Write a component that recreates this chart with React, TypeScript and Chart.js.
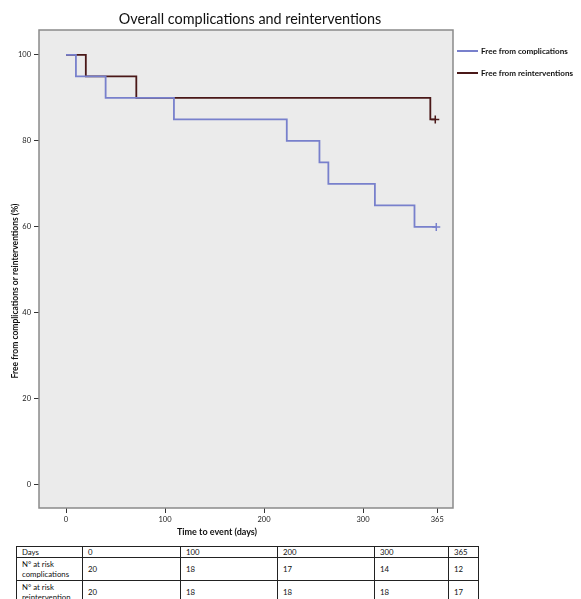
import React, { useEffect, useRef } from "react";
import { Chart, registerables } from "chart.js";

Chart.register(...registerables);

const chartTitle = "Overall complications and reinterventions";
const xAxisTitle = "Time to event (days)";
const yAxisTitle = "Free from complications or reinterventions (%)";

const complicationsLabel = "Free from complications";
const complicationsDays = [0, 10, 40, 109, 223, 256, 265, 312, 352, 374];
const complicationsFree = [100, 95, 90, 85, 80, 75, 70, 65, 60, 60];

const reinterventionsLabel = "Free from reinterventions";
const reinterventionsDays = [0, 20, 71, 368, 373];
const reinterventionsFree = [100, 95, 90, 85, 85];

const xTickValues = [0, 100, 200, 300, 375];
const xTickLabels = ["0", "100", "200", "300", "365"];
const yTickValues = [0, 20, 40, 60, 80, 100];

const tableHeader = "Days";
const tableDays = ["0", "100", "200", "300", "365"];
const atRiskComplicationsLabel = ["N° at risk", "complications"];
const atRiskComplications = [20, 18, 17, 14, 12];
const atRiskReinterventionsLabel = ["N° at risk", "reintervention"];
const atRiskReinterventions = [20, 18, 18, 18, 17];

const FONT = "Lato, 'Open Sans', 'DejaVu Sans', sans-serif";
const BLUE = "#7880cc";
const MAROON = "#4a1818";

const boxPlugin = {
  id: "boxAndText",
  beforeDraw(chart: any) {
    const { ctx, chartArea: a } = chart;
    ctx.save();
    ctx.fillStyle = "#ebebeb";
    ctx.fillRect(a.left, a.top, a.right - a.left, a.bottom - a.top);
    ctx.restore();
  },
  afterDraw(chart: any) {
    const { ctx, chartArea: a } = chart;
    ctx.save();
    ctx.strokeStyle = "#8a8a8a";
    ctx.lineWidth = 1.5;
    ctx.strokeRect(a.left, a.top, a.right - a.left, a.bottom - a.top);

    ctx.fillStyle = "#111";
    ctx.textAlign = "center";
    ctx.textBaseline = "middle";
    ctx.font = `14.4px ${FONT}`;
    ctx.fillText(chartTitle, a.left + 211, 19);

    ctx.font = `bold 9px ${FONT}`;
    ctx.fillText(xAxisTitle, a.left + 178, a.bottom + 24);

    ctx.save();
    ctx.translate(15, a.top + 261);
    ctx.rotate(-Math.PI / 2);
    ctx.font = `bold 8.5px ${FONT}`;
    ctx.fillText(yAxisTitle, 0, 0);
    ctx.restore();

    ctx.textAlign = "left";
    ctx.font = `bold 8.1px ${FONT}`;
    chart.data.datasets.forEach((ds: any, i: number) => {
      const y = a.top + 21 + 22 * i;
      ctx.strokeStyle = ds.borderColor;
      ctx.lineWidth = 2;
      ctx.beginPath();
      ctx.moveTo(a.right + 4, y);
      ctx.lineTo(a.right + 25, y);
      ctx.stroke();
      ctx.fillStyle = "#111";
      ctx.fillText(ds.label, a.right + 28, y);
    });
    ctx.restore();
  },
};

function lastPointRadius(n: number) {
  return (c: any) => (c.dataIndex === n - 1 ? 4 : 0);
}

export default function App() {
  const ref = useRef<HTMLCanvasElement>(null);

  useEffect(() => {
    if (!ref.current) return;
    const chart = new Chart(ref.current, {
      type: "line",
      data: {
        datasets: [
          {
            label: complicationsLabel,
            data: complicationsDays.map((d, i) => ({ x: d, y: complicationsFree[i] })),
            borderColor: BLUE,
            backgroundColor: BLUE,
            borderWidth: 1.8,
            stepped: "before",
            fill: false,
            pointStyle: "cross",
            pointRadius: lastPointRadius(complicationsDays.length),
            pointHoverRadius: 0,
            pointBorderColor: BLUE,
            pointBorderWidth: 1.5,
          },
          {
            label: reinterventionsLabel,
            data: reinterventionsDays.map((d, i) => ({ x: d, y: reinterventionsFree[i] })),
            borderColor: MAROON,
            backgroundColor: MAROON,
            borderWidth: 1.8,
            stepped: "before",
            fill: false,
            pointStyle: "cross",
            pointRadius: lastPointRadius(reinterventionsDays.length),
            pointHoverRadius: 0,
            pointBorderColor: MAROON,
            pointBorderWidth: 1.5,
          },
        ],
      },
      options: {
        animation: false,
        responsive: false,
        events: [],
        layout: { padding: { top: 30, right: 128, left: 0, bottom: 0 } },
        plugins: {
          legend: { display: false },
          title: { display: false },
          tooltip: { enabled: false },
        },
        scales: {
          x: {
            type: "linear",
            min: -27.3,
            max: 390.9,
            afterBuildTicks: (s: any) => {
              s.ticks = xTickValues.map((v) => ({ value: v }));
            },
            afterFit: (s: any) => {
              s.height = 32;
            },
            border: { display: false },
            grid: {
              display: true,
              drawOnChartArea: false,
              drawTicks: true,
              tickLength: 5,
              color: "#333",
              lineWidth: 1,
            },
            ticks: {
              padding: 2,
              autoSkip: false,
              maxRotation: 0,
              color: "#222",
              font: { size: 7.5, family: FONT },
              callback: (v: any) => {
                const i = xTickValues.indexOf(Number(v));
                return i >= 0 ? xTickLabels[i] : "";
              },
            },
          },
          y: {
            type: "linear",
            min: -5.35,
            max: 105.8,
            afterBuildTicks: (s: any) => {
              s.ticks = yTickValues.map((v) => ({ value: v }));
            },
            afterFit: (s: any) => {
              s.width = 39;
            },
            border: { display: false },
            grid: {
              display: true,
              drawOnChartArea: false,
              drawTicks: true,
              tickLength: 5,
              color: "#333",
              lineWidth: 1,
            },
            ticks: {
              padding: 3,
              color: "#222",
              font: { size: 7.5, family: FONT },
              callback: (v: any) => String(v),
            },
          },
        },
      },
      plugins: [boxPlugin],
    } as any);
    return () => chart.destroy();
  }, []);

  const cell: React.CSSProperties = {
    border: "1px solid #222",
    padding: "0 0 0 5px",
    textAlign: "left",
    verticalAlign: "middle",
    lineHeight: "10px",
  };
  const colWidths = [66, 98, 97, 97, 74, 30];

  return (
    <div style={{ position: "absolute", left: 0, top: 0, width: 581, height: 599, overflow: "hidden", background: "#fff" }}>
      <canvas ref={ref} width={581} height={540} style={{ position: "absolute", left: 0, top: 0, width: 581, height: 540 }} />
      <table
        style={{
          position: "absolute",
          left: 16,
          top: 546,
          width: 462,
          borderCollapse: "collapse",
          tableLayout: "fixed",
          fontFamily: FONT,
          fontSize: 7.8,
          color: "#111",
        }}
      >
        <colgroup>
          {colWidths.map((w, i) => (
            <col key={i} style={{ width: w }} />
          ))}
        </colgroup>
        <tbody>
          <tr style={{ height: 11 }}>
            <td style={cell}>{tableHeader}</td>
            {tableDays.map((d, i) => (
              <td key={i} style={cell}>{d}</td>
            ))}
          </tr>
          <tr style={{ height: 23 }}>
            <td style={cell}>
              {atRiskComplicationsLabel[0]}
              <br />
              {atRiskComplicationsLabel[1]}
            </td>
            {atRiskComplications.map((d, i) => (
              <td key={i} style={cell}>{d}</td>
            ))}
          </tr>
          <tr style={{ height: 23 }}>
            <td style={cell}>
              {atRiskReinterventionsLabel[0]}
              <br />
              {atRiskReinterventionsLabel[1]}
            </td>
            {atRiskReinterventions.map((d, i) => (
              <td key={i} style={cell}>{d}</td>
            ))}
          </tr>
        </tbody>
      </table>
    </div>
  );
}
